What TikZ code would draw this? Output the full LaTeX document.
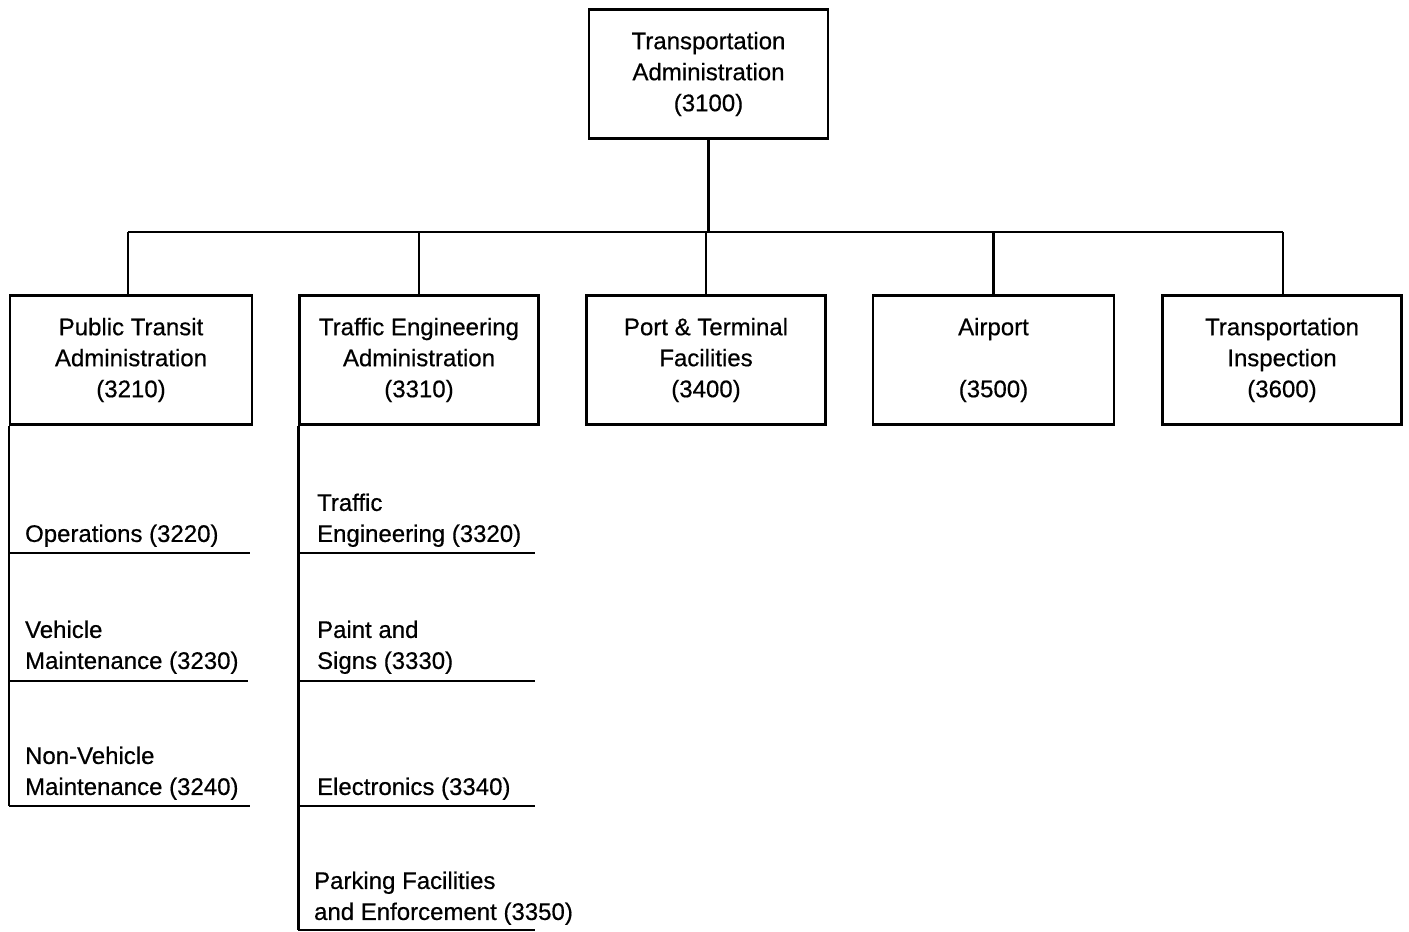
\documentclass[tikz,border=0pt]{standalone}
\usepackage{fontspec}
\setmainfont[FakeBold=0.5]{Liberation Sans}
\begin{document}
\begin{tikzpicture}[x=0.5pt,y=-0.5pt, line width=1.1pt,
  txt/.style={font=\fontsize{12}{15.5}\selectfont},
  unit/.style={txt, draw, line width=1.1pt, minimum width=119.5pt, minimum height=64.5pt, align=center, inner sep=0pt},
  sub/.style={txt, anchor=south west, inner sep=0pt, align=left}]
\useasboundingbox (0,0) rectangle (1409,932);
% boxes
\node[unit] (top) at (708.5,74) {Transportation\\Administration\\(3100)};
\node[unit, minimum width=121pt] (pta) at (131,360) {Public Transit\\Administration\\(3210)};
\node[unit] (tea) at (419,360) {Traffic Engineering\\Administration\\(3310)};
\node[unit] (port) at (706,360) {Port \& Terminal\\Facilities\\(3400)};
\node[unit, minimum width=120.5pt] (air) at (993.5,360) {Airport\\\mbox{}\\(3500)};
\node[unit] (insp) at (1282,360) {Transportation\\Inspection\\(3600)};
% bus
\coordinate (busL) at (128,232);
\coordinate (busR) at (1283,232);
\draw (busL) -- (busR);
\draw (top.south) -- (top.south |- busL);
\draw (busL) -- (busL |- pta.north);
\draw (tea.north |- busL) -- (tea.north);
\draw (port.north |- busL) -- (port.north);
\draw (air.north |- busL) -- (air.north);
\draw (busR) -- (busR |- insp.north);
% sub units, left
\node[sub] (ops) at (24,548) {Operations (3220)};
\node[sub] (veh) at (24,675) {Vehicle\\Maintenance (3230)};
\node[sub] (nveh) at (24,801) {Non-Vehicle\\Maintenance (3240)};
\coordinate (pr1) at (250,553);
\coordinate (pr2) at (248,681);
\coordinate (pr3) at (250,806);
\draw (pta.south west) -- (pta.south west |- pr3);
\draw (pta.south west |- pr1) -- (pr1);
\draw (pta.south west |- pr2) -- (pr2);
\draw (pta.south west |- pr3) -- (pr3);
% sub units, right
\node[sub] (te) at (316,548) {Traffic\\Engineering (3320)};
\node[sub] (pai) at (316,675) {Paint and\\Signs (3330)};
\node[sub] (ele) at (316,801) {Electronics (3340)};
\node[sub] (par) at (313,926) {Parking Facilities\\and Enforcement (3350)};
\coordinate (tr1) at (535,553);
\coordinate (tr2) at (535,681);
\coordinate (tr3) at (535,806);
\coordinate (tr4) at (535,930);
\draw (tea.south west) -- (tea.south west |- tr4);
\draw (tea.south west |- tr1) -- (tr1);
\draw (tea.south west |- tr2) -- (tr2);
\draw (tea.south west |- tr3) -- (tr3);
\draw (tea.south west |- tr4) -- (tr4);
\end{tikzpicture}
\end{document}
